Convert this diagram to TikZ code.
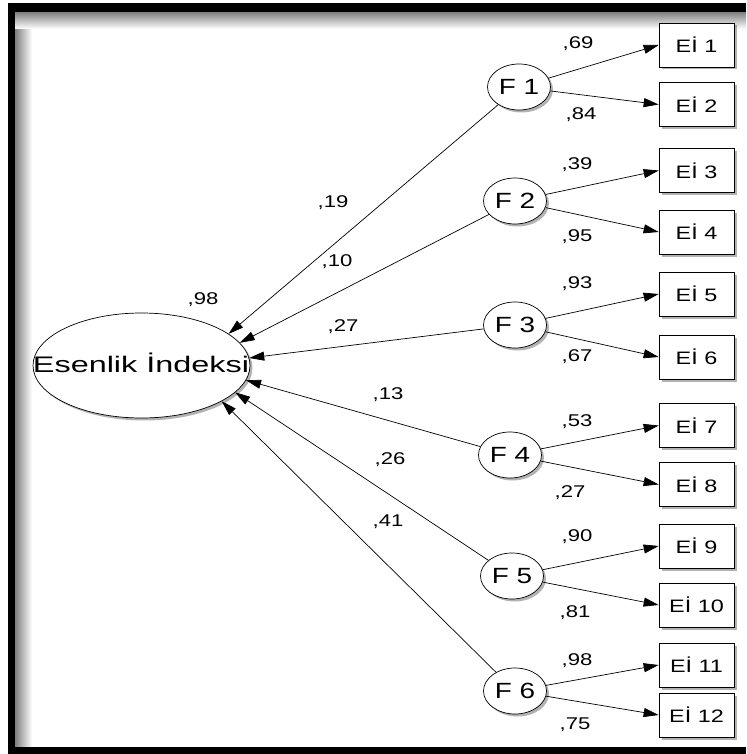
\documentclass[tikz,border=0pt]{standalone}
\usepackage{fontspec}
\setmainfont{Liberation Sans}
\usepackage{graphicx}
\usetikzlibrary{shapes.geometric,arrows.meta,shadows}
\newcommand\shtxt[2]{\scalebox{#1}[1]{#2}}
\begin{document}
\begin{tikzpicture}[x=1pt,y=-1pt,
  shd/.style={drop shadow={shadow xshift=2.5pt,shadow yshift=-2.5pt,opacity=0.3,fill=black}},
  lat/.style={ellipse,draw,fill=white,line width=0.7pt,minimum width=63pt,minimum height=46pt,inner sep=0pt,shd,font=\fontsize{22}{25}\selectfont},
  big/.style={ellipse,draw,fill=white,line width=0.7pt,minimum width=217pt,minimum height=105pt,inner sep=0pt,shd},
  obs/.style={rectangle,draw,fill=white,line width=0.7pt,minimum width=75pt,minimum height=44pt,inner sep=0pt,shd,font=\fontsize{18}{21}\selectfont},
  coef/.style={inner sep=0pt,font=\fontsize{17}{20}\selectfont},
  arr/.style={-{Triangle[length=15pt,width=9pt]},line width=0.7pt}]
\useasboundingbox (0,0) rectangle (746,754);
% frame
\fill[white] (0,0) rectangle (746,754);
\shade[left color=black!50,right color=white] (15,12) rectangle (32,747);
\shade[top color=black!50,bottom color=white] (15,12) rectangle (746,29);
\fill[black] (8,3) rectangle (746,12);
\fill[black] (8,3) rectangle (15,754);
\fill[black] (8,747) rectangle (746,754);
% main ellipse
\node[big] (E) at (141.5,365.5) {};
\node[inner sep=0pt,font=\fontsize{22.5}{26}\selectfont] (Et) at (141,363) {\shtxt{1.44}{Esenlik İndeksi}};
% factors
\node[lat] (F1) at (519,87) {\shtxt{1.27}{F 1}};
\node[lat] (F2) at (515,201) {\shtxt{1.27}{F 2}};
\node[lat] (F3) at (515,325) {\shtxt{1.27}{F 3}};
\node[lat] (F4) at (510,455) {\shtxt{1.27}{F 4}};
\node[lat] (F5) at (512,576) {\shtxt{1.27}{F 5}};
\node[lat] (F6) at (515,691) {\shtxt{1.27}{F 6}};
% items
\node[obs] (I1) at (696.5,45) {\shtxt{1.3}{Eİ 1}};
\node[obs] (I2) at (696.5,104.5) {\shtxt{1.3}{Eİ 2}};
\node[obs] (I3) at (696.5,170.5) {\shtxt{1.3}{Eİ 3}};
\node[obs] (I4) at (696.5,232) {\shtxt{1.3}{Eİ 4}};
\node[obs] (I5) at (696.5,294) {\shtxt{1.3}{Eİ 5}};
\node[obs] (I6) at (696.5,357) {\shtxt{1.3}{Eİ 6}};
\node[obs] (I7) at (696.5,425.5) {\shtxt{1.3}{Eİ 7}};
\node[obs] (I8) at (696.5,484.5) {\shtxt{1.3}{Eİ 8}};
\node[obs] (I9) at (696.5,546) {\shtxt{1.3}{Eİ 9}};
\node[obs] (I10) at (696.5,605) {\shtxt{1.3}{Eİ 10}};
\node[obs] (I11) at (696.5,665) {\shtxt{1.3}{Eİ 11}};
\node[obs] (I12) at (696.5,715) {\shtxt{1.3}{Eİ 12}};
% arrows factor -> items
\draw[arr] (F1) -- (I1.west);
\draw[arr] (F1) -- (I2.west);
\draw[arr] (F2) -- (I3.west);
\draw[arr] (F2) -- (I4.west);
\draw[arr] (F3) -- (I5.west);
\draw[arr] (F3) -- (I6.west);
\draw[arr] (F4) -- (I7.west);
\draw[arr] (F4) -- (I8.west);
\draw[arr] (F5) -- (I9.west);
\draw[arr] (F5) -- (I10.west);
\draw[arr] (F6) -- (I11.west);
\draw[arr] (F6) -- (I12.west);
% arrows factor -> main
\draw[arr] (F1) -- (E.20);
\draw[arr] (F2) -- (E.13);
\draw[arr] (F3) -- (E.4);
\draw[arr] (F4) -- (E.-8);
\draw[arr] (F5) -- (E.-16);
\draw[arr] (F6) -- (E.-24);
% coefficients
\node[coef] (c98) at (203,300) {\shtxt{1.3}{,98}};
\node[coef] (c19) at (333,203) {\shtxt{1.3}{,19}};
\node[coef] (c10) at (337,262) {\shtxt{1.3}{,10}};
\node[coef] (c27a) at (343,327) {\shtxt{1.3}{,27}};
\node[coef] (c13) at (388,395) {\shtxt{1.3}{,13}};
\node[coef] (c26) at (390,460) {\shtxt{1.3}{,26}};
\node[coef] (c41) at (388,522) {\shtxt{1.3}{,41}};
\node[coef] (c69) at (578,44) {\shtxt{1.3}{,69}};
\node[coef] (c84) at (581,115) {\shtxt{1.3}{,84}};
\node[coef] (c39) at (577,165) {\shtxt{1.3}{,39}};
\node[coef] (c95) at (577,237) {\shtxt{1.3}{,95}};
\node[coef] (c93) at (577,284) {\shtxt{1.3}{,93}};
\node[coef] (c67) at (577,357) {\shtxt{1.3}{,67}};
\node[coef] (c53) at (577,422) {\shtxt{1.3}{,53}};
\node[coef] (c27b) at (570,493) {\shtxt{1.3}{,27}};
\node[coef] (c90) at (577,537) {\shtxt{1.3}{,90}};
\node[coef] (c81) at (575,613) {\shtxt{1.3}{,81}};
\node[coef] (c98b) at (577,661) {\shtxt{1.3}{,98}};
\node[coef] (c75) at (575,725) {\shtxt{1.3}{,75}};
\end{tikzpicture}
\end{document}
